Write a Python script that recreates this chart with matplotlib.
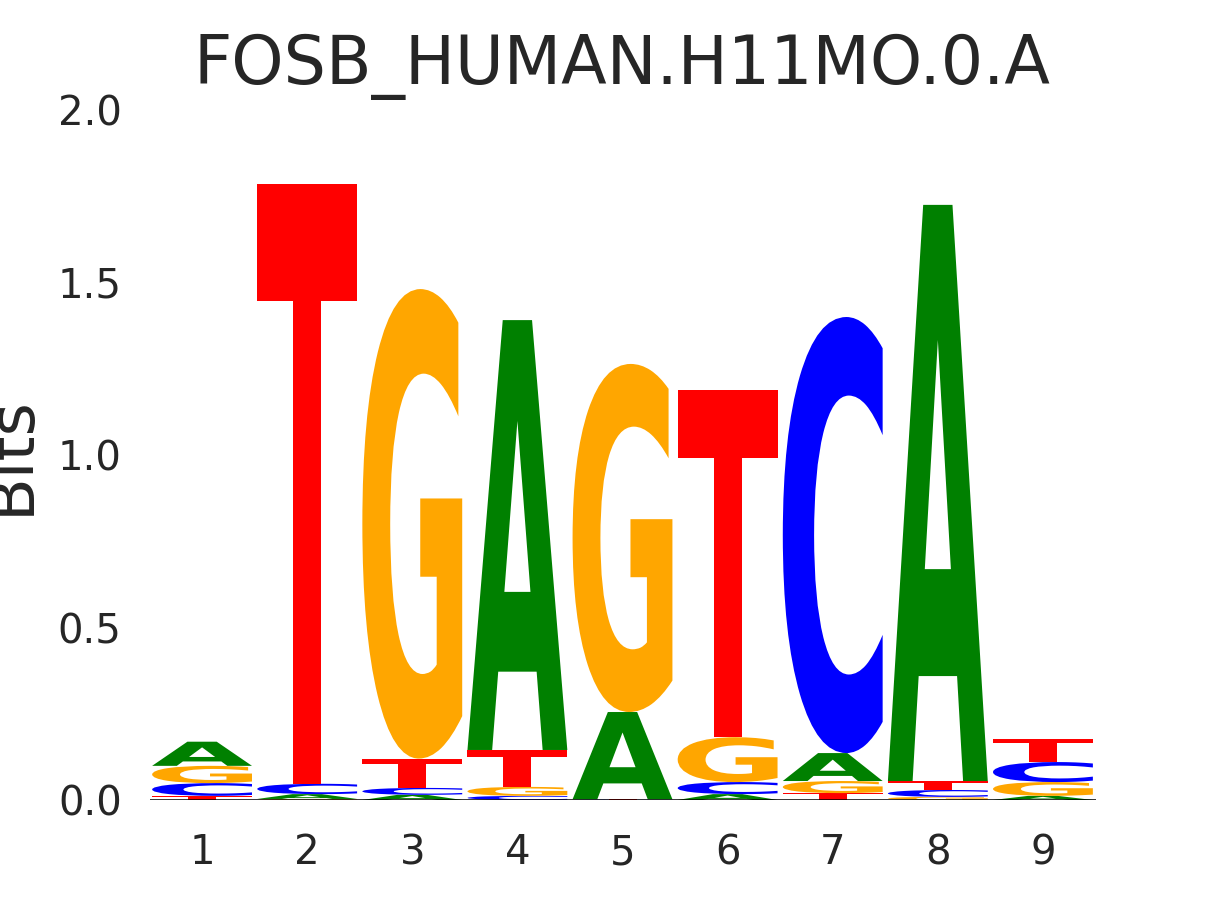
import matplotlib
matplotlib.use("Agg")
import matplotlib.pyplot as plt
from matplotlib.textpath import TextPath
from matplotlib.patches import PathPatch
from matplotlib.font_manager import FontProperties
from matplotlib import transforms

title = "FOSB_HUMAN.H11MO.0.A"
positions = [1, 2, 3, 4, 5, 6, 7, 8, 9]

# information content (bits) per letter and position
bits_A = [0.070, 0.014, 0.015, 1.246, 0.253, 0.017, 0.081, 1.670, 0.012]
bits_C = [0.037, 0.030, 0.020, 0.012, 0.001, 0.035, 1.264, 0.020, 0.058]
bits_G = [0.050, 0.003, 1.361, 0.026, 1.009, 0.130, 0.035, 0.009, 0.040]
bits_T = [0.012, 1.739, 0.085, 0.107, 0.001, 1.006, 0.020, 0.026, 0.067]

yticks = [0.0, 0.5, 1.0, 1.5, 2.0]

colors = {"A": (0, 0.5, 0), "C": (0, 0, 1), "G": (1, 0.65, 0), "T": (1, 0, 0)}
glyph_font = FontProperties(family="DejaVu Sans", weight="bold")
text_color = "#262626"


def draw_glyph(ax, letter, x, bottom, height, width=0.95):
    path = TextPath((0, 0), letter, size=1, prop=glyph_font)
    ext = path.get_extents()
    t = (transforms.Affine2D()
         .translate(-ext.x0, -ext.y0)
         .scale(width / ext.width, height / ext.height)
         .translate(x - width / 2, bottom))
    ax.add_patch(PathPatch(t.transform_path(path), facecolor=colors[letter],
                           edgecolor="none", lw=0))


fig = plt.figure(figsize=(12.15, 9), dpi=100)
ax = fig.add_axes([149.5 / 1215, 100 / 900, 946 / 1215, 690 / 900])

table = {"A": bits_A, "C": bits_C, "G": bits_G, "T": bits_T}
for i, pos in enumerate(positions):
    col = sorted(((table[k][i], k) for k in "ACGT"))
    bottom = 0.0
    for h, letter in col:
        draw_glyph(ax, letter, pos, bottom, h)
        bottom += h

ax.axhline(0, color="black", lw=1.1, zorder=3)

ax.set_xlim(0.5, 9.5)
ax.set_ylim(0, 2.0)
ax.set_xticks(positions)
ax.set_xticklabels([str(p) for p in positions])
ax.set_yticks(yticks)
ax.set_yticklabels(["%.1f" % v for v in yticks])
for s in ax.spines.values():
    s.set_visible(False)
ax.tick_params(axis="y", length=0, pad=20, labelsize=29, labelcolor=text_color)
ax.tick_params(axis="x", length=0, pad=24, labelsize=29, labelcolor=text_color)

ax.set_title(title, fontsize=48, color=text_color, pad=19)
ax.set_ylabel("Bits", fontsize=46, color=text_color)
ax.yaxis.set_label_coords(-0.114, 0.5)

fig.savefig("out.png", dpi=100, facecolor="white")
